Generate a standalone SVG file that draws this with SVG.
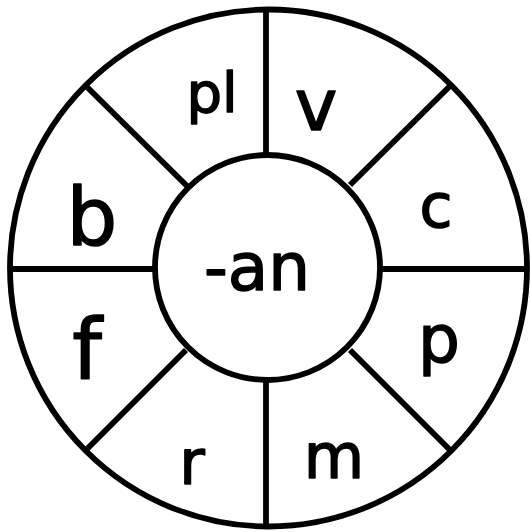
<svg xmlns="http://www.w3.org/2000/svg" width="531" height="532" viewBox="0 0 531 532">
<style>
.ring{fill:none;stroke:#000;stroke-width:5.8}
.spoke{stroke:#000;stroke-width:5.8;stroke-linecap:butt}
.lbl{font-family:"Comic Sans MS","DejaVu Sans",sans-serif;fill:#000;stroke:#000;stroke-width:1.5;stroke-linejoin:round;text-anchor:middle}
</style>
<rect width="531" height="532" fill="#fff"/>
<g id="outer"><circle class="ring" cx="268.5" cy="268" r="258.5"/></g>
<g id="connectors">
<line class="spoke" x1="266" y1="10" x2="266" y2="155"/>
<line class="spoke" x1="266" y1="380" x2="266" y2="527"/>
<line class="spoke" x1="10" y1="269" x2="155" y2="269"/>
<line class="spoke" x1="380" y1="269" x2="527" y2="269"/>
<line class="spoke" x1="85" y1="85" x2="187" y2="186"/>
<line class="spoke" x1="451" y1="85" x2="350" y2="185"/>
<line class="spoke" x1="86" y1="450" x2="186" y2="350"/>
<line class="spoke" x1="451" y1="451" x2="350" y2="350"/>
</g>
<g id="center"><circle class="ring" cx="267.5" cy="267.5" r="112.5" fill="#fff"/>
<text class="lbl" x="257" y="290" font-size="66">-an</text></g>
<g id="seg-pl"><text class="lbl" x="212" y="112" font-size="56">pl</text></g>
<g id="seg-v"><text class="lbl" x="316" y="130" font-size="72">v</text></g>
<g id="seg-c"><text class="lbl" x="436" y="227" font-size="60">c</text></g>
<g id="seg-p"><text class="lbl" x="439" y="362" font-size="66">p</text></g>
<g id="seg-m"><text class="lbl" x="334" y="478" font-size="62">m</text></g>
<g id="seg-r"><text class="lbl" x="192" y="484" font-size="62">r</text></g>
<g id="seg-f"><text class="lbl" x="87" y="379" font-size="84">f</text></g>
<g id="seg-b"><text class="lbl" x="92" y="245" font-size="80">b</text></g>
</svg>
